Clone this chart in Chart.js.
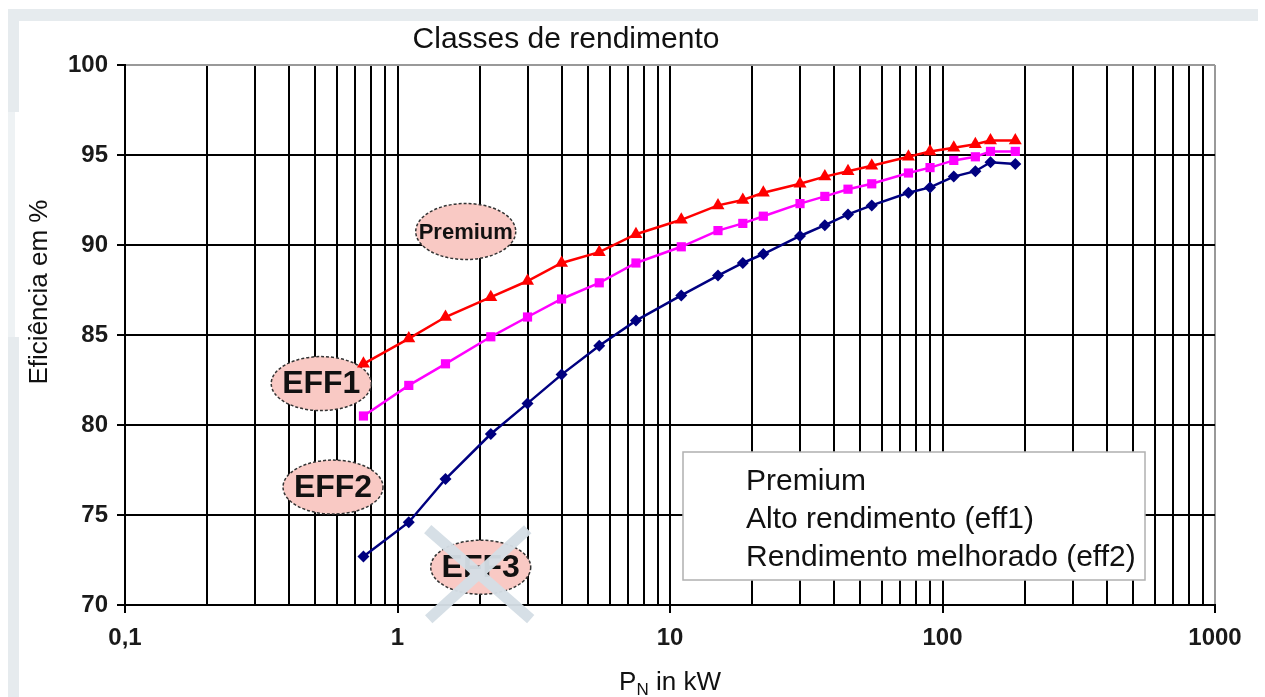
<!DOCTYPE html>
<html>
<head>
<meta charset="utf-8">
<script src="https://cdn.jsdelivr.net/npm/chart.js@4/dist/chart.umd.min.js"></script>
<style>
  body { margin: 0; background: #fff; }
  #wrap { position: relative; width: 1265px; height: 697px; }
</style>
</head>
<body>
<div id="wrap"><canvas id="effChart" width="1265" height="697"></canvas></div>
<script>
// --- データ ---
const powerKW = [0.75, 1.1, 1.5, 2.2, 3, 4, 5.5, 7.5, 11, 15, 18.5, 22, 30, 37, 45, 55, 75, 90, 110, 132, 150, 185];
const premiumEff = [83.4, 84.8, 86.0, 87.1, 88.0, 89.0, 89.6, 90.6, 91.4, 92.2, 92.5, 92.9, 93.4, 93.8, 94.1, 94.4, 94.9, 95.2, 95.4, 95.6, 95.8, 95.8];
const eff1Eff = [80.5, 82.2, 83.4, 84.9, 86.0, 87.0, 87.9, 89.0, 89.9, 90.8, 91.2, 91.6, 92.3, 92.7, 93.1, 93.4, 94.0, 94.3, 94.7, 94.9, 95.2, 95.2];
const eff2Eff = [72.7, 74.6, 77.0, 79.5, 81.2, 82.8, 84.4, 85.8, 87.2, 88.3, 89.0, 89.5, 90.5, 91.1, 91.7, 92.2, 92.9, 93.2, 93.8, 94.1, 94.6, 94.5];

const seriesNames = ['Premium', 'Alto rendimento (eff1)', 'Rendimento melhorado (eff2)'];
const decadeValues = [0.1, 1, 10, 100, 1000];
const decadeLabels = ['0,1', '1', '10', '100', '1000'];

// クラスの吹き出し (データ座標)
const classLabels = ['Premium', 'EFF1', 'EFF2', 'EFF3'];
const classKW = [1.78, 0.525, 0.58, 2.02];
const classPct = [90.75, 82.3, 76.55, 72.1];

const chartTitle = 'Classes de rendimento';
const yTitle = 'Eficiência em %';

const FONT = '"Liberation Sans", Arial';

// --- ヘルパー ---
const toPoints = values => values.map((v, i) => ({ x: powerKW[i], y: v }));
const isDecade = v => decadeValues.some(d => Math.abs(v - d) < d * 1e-6);

function buildLogTicks() {
    const ticks = [];
    decadeValues.slice(0, -1).forEach(d => {
        for (let m = 1; m <= 9; m++) ticks.push({ value: m * d, major: m === 1 });
    });
    ticks.push({ value: 1000, major: true });
    return ticks;
}

// 背景・吹き出し・凡例・タイトルを描くプラグイン
const decorPlugin = {
    id: 'decor',
    beforeDraw(chart) {
        const { ctx } = chart;
        ctx.save();
        ctx.fillStyle = '#fff';
        ctx.fillRect(0, 0, chart.width, chart.height);
        ctx.fillStyle = '#e6ebee';
        ctx.fillRect(8, 9, 1250, 12);
        ctx.fillRect(8, 9, 11, 103);
        ctx.fillRect(8, 337, 11, 360);
        ctx.fillStyle = '#eef2f4';
        ctx.fillRect(8, 112, 7, 225);
        ctx.restore();
    },
    beforeDatasetsDraw(chart) {
        const { ctx, scales: { x, y } } = chart;
        ctx.save();
        classLabels.forEach((label, i) => {
            const cx = x.getPixelForValue(classKW[i]);
            const cy = y.getPixelForValue(classPct[i]);
            const small = label === 'Premium';
            ctx.beginPath();
            ctx.ellipse(cx, cy, 50, small ? 28 : 27, 0, 0, Math.PI * 2);
            ctx.fillStyle = '#f9c9c4';
            ctx.fill();
            ctx.setLineDash([3, 2]);
            ctx.lineWidth = 1.5;
            ctx.strokeStyle = '#333';
            ctx.stroke();
            ctx.setLineDash([]);
            ctx.fillStyle = '#111';
            ctx.font = small ? `bold 22px ${FONT}` : `bold 32px ${FONT}`;
            ctx.textAlign = 'center';
            ctx.textBaseline = 'middle';
            ctx.fillText(label, cx, cy + 1);
        });
        ctx.restore();
    },
    afterDraw(chart) {
        const { ctx, scales: { x, y }, chartArea } = chart;
        ctx.save();

        // EFF3 の×印
        const cx = x.getPixelForValue(classKW[3]);
        const cy = y.getPixelForValue(classPct[3]);
        ctx.strokeStyle = 'rgba(212, 222, 229, 0.96)';
        ctx.lineWidth = 11;
        ctx.beginPath();
        ctx.moveTo(cx - 53, cy - 38); ctx.lineTo(cx + 50, cy + 52);
        ctx.moveTo(cx + 47, cy - 38); ctx.lineTo(cx - 52, cy + 52);
        ctx.stroke();

        // 凡例 (文字のみ)
        ctx.fillStyle = '#fff';
        ctx.fillRect(683, 452, 462, 128);
        ctx.strokeStyle = '#b0b0b0';
        ctx.lineWidth = 1.5;
        ctx.strokeRect(683, 452, 462, 128);
        ctx.fillStyle = '#111';
        ctx.font = `30px ${FONT}`;
        ctx.textAlign = 'left';
        ctx.textBaseline = 'alphabetic';
        seriesNames.forEach((name, i) => ctx.fillText(name, 746, 490 + i * 38));

        // タイトル
        ctx.textAlign = 'center';
        ctx.textBaseline = 'middle';
        ctx.font = `30px ${FONT}`;
        ctx.fillText(chartTitle, 566, 40);

        // Y軸タイトル
        ctx.save();
        ctx.translate(40, 292);
        ctx.rotate(-Math.PI / 2);
        ctx.font = `26px ${FONT}`;
        ctx.fillText(yTitle, 0, 0);
        ctx.restore();

        // X軸タイトル P_N in kW
        ctx.textAlign = 'left';
        ctx.textBaseline = 'alphabetic';
        const big = `26px ${FONT}`;
        const sub = `17px ${FONT}`;
        ctx.font = big;
        const wP = ctx.measureText('P').width;
        const wRest = ctx.measureText(' in kW').width;
        ctx.font = sub;
        const wN = ctx.measureText('N').width;
        const px = (chartArea.left + chartArea.right) / 2 - (wP + wN + wRest) / 2;
        const base = 690;
        ctx.font = big;
        ctx.fillText('P', px, base);
        ctx.font = sub;
        ctx.fillText('N', px + wP, base + 5);
        ctx.font = big;
        ctx.fillText(' in kW', px + wP + wN, base);
        ctx.restore();
    }
};

const effChart = new Chart(document.getElementById('effChart'), {
    type: 'line',
    data: {
        datasets: [
            { label: seriesNames[0], data: toPoints(premiumEff), borderColor: '#ff0000', backgroundColor: '#ff0000',
              borderWidth: 2.5, pointStyle: 'triangle', pointRadius: 7.5, pointBorderWidth: 0 },
            { label: seriesNames[1], data: toPoints(eff1Eff), borderColor: '#ff00ff', backgroundColor: '#ff00ff',
              borderWidth: 2.5, pointStyle: 'rect', pointRadius: 6.5, pointBorderWidth: 0 },
            { label: seriesNames[2], data: toPoints(eff2Eff), borderColor: '#000080', backgroundColor: '#000080',
              borderWidth: 2.5, pointStyle: 'rectRot', pointRadius: 6, pointBorderWidth: 0 }
        ]
    },
    options: {
        responsive: false,
        animation: false,
        layout: { padding: { top: 65, right: 50, left: 0, bottom: 0 } },
        scales: {
            x: {
                type: 'logarithmic',
                min: 0.1,
                max: 1000,
                afterBuildTicks: scale => { scale.ticks = buildLogTicks(); },
                afterFit: scale => { scale.height = 92; },
                ticks: {
                    autoSkip: false,
                    maxRotation: 0,
                    padding: 11,
                    color: '#1a1a1a',
                    font: { family: FONT, size: 24, weight: 'bold' },
                    callback: value => {
                        const i = decadeValues.findIndex(d => Math.abs(value - d) < d * 1e-6);
                        return i >= 0 ? decadeLabels[i] : '';
                    }
                },
                grid: {
                    color: c => (c.tick && c.tick.value === 1000 ? '#999' : '#000'),
                    lineWidth: 2,
                    tickLength: 8,
                    tickColor: c => (c.tick && isDecade(c.tick.value) ? '#000' : 'rgba(0,0,0,0)')
                },
                border: { color: '#000', width: 2 }
            },
            y: {
                min: 70,
                max: 100,
                afterFit: scale => { scale.width = 125; },
                ticks: {
                    stepSize: 5,
                    padding: 9,
                    color: '#1a1a1a',
                    font: { family: FONT, size: 24, weight: 'bold' }
                },
                grid: {
                    color: c => (c.tick && c.tick.value === 100 ? '#999' : '#000'),
                    lineWidth: 2,
                    tickLength: 8,
                    tickColor: '#000'
                },
                border: { color: '#000', width: 2 }
            }
        },
        plugins: {
            legend: { display: false },
            title: { display: false },
            tooltip: { enabled: false }
        }
    },
    plugins: [decorPlugin]
});
</script>
</body>
</html>
